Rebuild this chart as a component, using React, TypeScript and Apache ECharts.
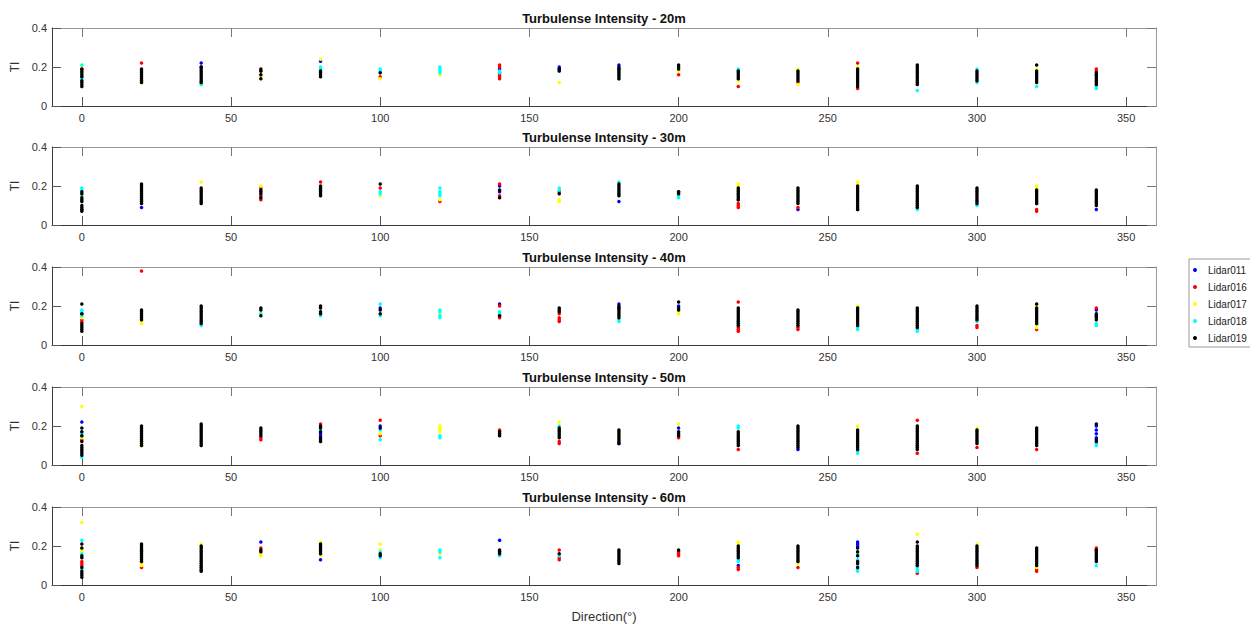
import React, { useEffect, useRef } from "react";
import * as echarts from "echarts";

// Wind directions (degrees) at which the lidars report
const DIRECTIONS = [0, 20, 40, 60, 80, 100, 120, 140, 160, 180, 200, 220, 240, 260, 280, 300, 320, 340];
const X_TICKS = [0, 50, 100, 150, 200, 250, 300, 350];
const LIDARS = ["Lidar011", "Lidar016", "Lidar017", "Lidar018", "Lidar019"];
const HEIGHTS = ["20m", "30m", "40m", "50m", "60m"];

// TI values in hundredths, one list per direction (same order as DIRECTIONS)
// ---- 20 m ----
const TI20_L011 = [[], [], [22, 20], [], [23], [], [], [19, 17], [20, 19], [21, 19], [], [], [], [], [], [], [], [16]];
const TI20_L016 = [[19], [22], [], [18], [], [15], [], [21, 20, 16, 15, 14], [], [], [16], [10], [12], [22, 9], [], [], [], [19, 18]];
const TI20_L017 = [[20, 18], [13, 12], [11], [16, 15], [24], [14], [16], [], [12], [], [18], [13], [19, 11], [20], [], [], [19], []];
const TI20_L018 = [[21, 15, 14], [], [12, 11], [], [20, 19], [19, 18], [20, 19, 18, 17], [18, 17], [18], [17, 16, 14], [], [19, 18], [], [], [8], [19, 12], [10], [9, 10]];
const TI20_L019 = [
  [19, 18, 17, 16, 15, 13, 12, 11, 10], [19, 18, 17, 16, 15, 14, 13, 12], [20, 19, 18, 17, 16, 15, 14, 13, 12], [19, 18, 16, 14],
  [18, 17, 16, 15], [17], [], [], [19, 18], [20, 19, 18, 17, 16, 15, 14], [21, 20, 19], [18, 17, 16, 15, 14],
  [18, 17, 16, 15, 14, 13], [19, 18, 17, 16, 15, 14, 13, 12, 11, 10], [21, 20, 19, 18, 17, 16, 15, 14, 13, 12, 11],
  [18, 17, 16, 15, 14, 13], [21, 18, 17, 16, 15, 14, 13, 12], [17, 16, 15, 14, 13, 12, 11],
];
// ---- 30 m ----
const TI30_L011 = [[8], [9], [], [], [], [], [], [20, 17], [], [12], [], [], [8], [8], [], [], [], [8]];
const TI30_L016 = [[], [], [], [19, 15, 13], [22], [19], [12], [21, 15], [17], [], [17], [13, 11, 10, 9], [9], [], [], [], [8, 7], []];
const TI30_L017 = [[13], [13, 12], [22], [20], [], [15], [13], [], [13, 12], [], [], [21, 20], [], [22, 21], [], [], [20, 19], []];
const TI30_L018 = [[19, 18, 15], [15], [12], [17], [19, 18], [17, 16], [19, 17, 16, 15], [], [19, 18], [22, 16], [15, 14], [16], [15], [], [9, 8], [10], [12, 11], [12]];
const TI30_L019 = [
  [17, 16, 14, 13, 12, 10, 9, 8, 7], [21, 20, 19, 18, 17, 16, 15, 14, 13, 12, 11], [19, 18, 17, 16, 15, 14, 13, 12, 11], [18, 17, 16, 14],
  [20, 19, 18, 17, 16, 15], [21], [], [18, 14], [16], [21, 20, 19, 18, 17, 16, 15], [17, 16], [19, 18, 17, 16, 15, 14, 13],
  [19, 18, 17, 16, 15, 14, 13, 12, 11], [20, 19, 18, 17, 16, 15, 14, 13, 12, 11, 10, 9, 8], [20, 19, 18, 17, 16, 15, 14, 13, 12, 11, 10, 9],
  [19, 18, 17, 16, 15, 14, 13, 12, 11], [18, 17, 16, 15, 14, 13, 12, 11], [18, 17, 16, 15, 14, 13, 12, 11, 10],
];
// ---- 40 m ----
const TI40_L011 = [[16], [], [], [], [], [19], [], [21], [], [21, 19], [20], [], [], [], [], [], [], [18, 15]];
const TI40_L016 = [[13, 12], [38], [], [], [], [], [], [20, 15, 14], [16, 14, 13, 12], [], [], [22, 9, 8, 7], [9, 8], [], [], [10, 9], [8], [19]];
const TI40_L017 = [[14], [12, 11], [], [17], [], [], [16], [], [], [], [17, 16], [], [15], [20], [], [], [20, 10, 9], []];
const TI40_L018 = [[18, 17, 15], [], [11, 10], [16], [16, 15], [21, 15], [18, 17, 15, 14], [17, 16], [], [13, 12], [], [12, 11], [], [19, 9, 8], [8, 7], [13, 12], [11], [11, 10]];
const TI40_L019 = [
  [21, 16, 11, 10, 9, 8, 7], [18, 17, 16, 15, 14, 13], [20, 19, 18, 17, 16, 15, 14, 13, 12, 11], [19, 18, 15],
  [20, 19, 17, 16], [18, 16], [], [15], [19, 18, 17], [20, 19, 18, 17, 16, 15, 14], [22, 19, 18],
  [19, 18, 17, 16, 15, 14, 13, 12, 11, 10], [18, 17, 16, 15, 14, 13, 12, 11, 10], [19, 18, 17, 16, 15, 14, 13, 12, 11, 10],
  [19, 18, 17, 16, 15, 14, 13, 12, 11, 10, 9], [20, 19, 18, 17, 16, 15, 14, 13], [21, 19, 18, 17, 16, 15, 14, 13, 12, 11], [16, 15, 14, 13],
];
// ---- 50 m ----
const TI50_L011 = [[22], [], [], [], [16, 15], [20], [], [], [], [11], [19], [], [8], [], [], [], [], [20, 18, 16, 14]];
const TI50_L016 = [[13], [], [], [14, 13], [21], [23, 15], [], [18], [12, 11], [], [14], [8], [], [], [23, 6], [9], [8], []];
const TI50_L017 = [[30, 14], [12, 10], [], [18], [], [16], [20, 19, 18, 17], [], [22], [15], [21], [14], [12], [20], [], [19], [], []];
const TI50_L018 = [[17, 16, 15, 4], [], [], [], [18], [18, 13], [15, 14], [16], [20], [], [], [20, 19], [], [10, 8, 7, 6], [10, 9], [], [12], [11, 10]];
const TI50_L019 = [
  [19, 17, 15, 12, 10, 9, 8, 7, 6, 5], [20, 19, 18, 17, 16, 15, 14, 13, 12, 11, 10], [21, 20, 19, 18, 17, 16, 15, 14, 13, 12, 11, 10],
  [19, 18, 17, 16, 15], [20, 19, 17, 14, 13, 12], [19], [], [17, 16, 15], [19, 18, 17, 16, 15, 14],
  [18, 17, 16, 15, 14, 13, 12, 11], [17, 16, 15], [17, 16, 15, 14, 13, 12, 11, 10],
  [20, 19, 18, 17, 16, 15, 14, 13, 12, 11, 10, 9], [18, 17, 16, 15, 14, 13, 12, 11, 10, 9, 8],
  [20, 19, 18, 17, 16, 15, 14, 13, 12, 11, 10, 9, 8], [18, 17, 16, 15, 14, 13, 12, 11],
  [19, 18, 17, 16, 15, 14, 13, 12, 11, 10], [21, 13, 12],
];
// ---- 60 m ----
const TI60_L011 = [[], [], [], [22], [13], [], [], [23], [], [], [], [10], [], [22, 21, 20], [], [], [], []];
const TI60_L016 = [[12, 11, 10], [9], [], [19], [], [], [], [17], [18, 14, 13], [], [17, 16, 15], [9, 8], [9], [], [6], [9], [7, 8], [19, 18]];
const TI60_L017 = [[32, 19, 18, 17], [11, 10], [21, 20], [16, 15], [22, 15], [21, 18], [16], [], [], [], [], [22, 21], [11], [], [26], [21], [9], []];
const TI60_L018 = [[23, 16, 8], [18, 17, 16], [9, 8], [], [], [17, 14], [18, 17, 14], [15], [15], [], [], [13, 12], [], [16, 13, 10, 8, 7], [10, 9, 8, 7], [11], [], [14, 10]];
const TI60_L019 = [
  [21, 19, 15, 14, 9, 7, 6, 5, 4], [21, 20, 19, 18, 17, 16, 15, 14, 13, 12], [20, 19, 18, 17, 16, 15, 14, 13, 12, 11, 10, 9, 8, 7],
  [18, 17], [21, 20, 19, 18, 17, 16], [16, 15], [], [18, 17, 16], [16], [18, 17, 16, 15, 14, 13, 12, 11], [18],
  [20, 19, 18, 17, 16, 15, 14], [20, 19, 18, 17, 16, 15, 14, 13, 12], [19, 17, 15, 12, 11, 9],
  [22, 20, 19, 18, 17, 16, 15, 14, 13, 12, 11, 10], [20, 19, 18, 17, 16, 15, 14, 13, 12, 11, 10],
  [19, 18, 17, 16, 15, 14, 13, 12, 11, 10], [18, 17, 16, 15, 14, 13, 12],
];

const PANELS = [
  [TI20_L011, TI20_L016, TI20_L017, TI20_L018, TI20_L019],
  [TI30_L011, TI30_L016, TI30_L017, TI30_L018, TI30_L019],
  [TI40_L011, TI40_L016, TI40_L017, TI40_L018, TI40_L019],
  [TI50_L011, TI50_L016, TI50_L017, TI50_L018, TI50_L019],
  [TI60_L011, TI60_L016, TI60_L017, TI60_L018, TI60_L019],
];

const COLORS = ["#0000ff", "#ff0000", "#ffff00", "#00ffff", "#000000"];
const FONT = "'Liberation Sans', Arial, Helvetica, sans-serif";
const GRID_TOPS = [28, 147, 267, 387, 507];
const GRID_LEFT = 52;
const GRID_WIDTH = 1104;
const GRID_HEIGHT = 78;

function toPoints(lists: number[][]) {
  const pts: number[][] = [];
  lists.forEach((vals, i) => vals.forEach((v) => pts.push([DIRECTIONS[i], v / 100])));
  return pts;
}

export default function App() {
  const ref = useRef<HTMLDivElement>(null);
  useEffect(() => {
    if (!ref.current) return;
    const chart = echarts.init(ref.current, null, { renderer: "svg" });
    const grid = GRID_TOPS.map((top) => ({ left: GRID_LEFT, top, width: GRID_WIDTH, height: GRID_HEIGHT }));
    const xAxis: any[] = [];
    const yAxis: any[] = [];
    GRID_TOPS.forEach((_, i) => {
      xAxis.push({
        gridIndex: i, type: "value", min: -10, max: 360, position: "bottom",
        axisLine: { show: true, onZero: false, lineStyle: { color: "#3a3a3a", width: 1 } },
        axisTick: { show: true, inside: true, length: 9, customValues: X_TICKS, lineStyle: { color: "#555" } },
        axisLabel: { customValues: X_TICKS, fontSize: 11, color: "#333", margin: 6, fontFamily: FONT },
        splitLine: { show: false },
      });
      xAxis.push({
        gridIndex: i, type: "value", min: -10, max: 360, position: "top",
        axisLine: { show: true, onZero: false, lineStyle: { color: "#999", width: 1 } },
        axisTick: { show: true, inside: true, length: 9, customValues: X_TICKS, lineStyle: { color: "#777" } },
        axisLabel: { show: false },
        splitLine: { show: false },
      });
      yAxis.push({
        gridIndex: i, type: "value", min: 0, max: 0.4, interval: 0.2, position: "left",
        name: "TI", nameLocation: "middle", nameGap: 29, nameRotate: 90,
        nameTextStyle: { fontSize: 12, color: "#333", fontFamily: FONT },
        axisLine: { show: true, onZero: false, lineStyle: { color: "#3a3a3a", width: 1 } },
        axisTick: { show: true, inside: true, length: 9, lineStyle: { color: "#555" } },
        axisLabel: { fontSize: 11, color: "#333", margin: 5, fontFamily: FONT },
        splitLine: { show: false },
      });
      yAxis.push({
        gridIndex: i, type: "value", min: 0, max: 0.4, interval: 0.2, position: "right",
        axisLine: { show: true, onZero: false, lineStyle: { color: "#999", width: 1 } },
        axisTick: { show: true, inside: true, length: 9, lineStyle: { color: "#777" } },
        axisLabel: { show: false },
        splitLine: { show: false },
      });
    });
    const series: any[] = [];
    PANELS.forEach((panel, p) => {
      panel.forEach((lists, l) => {
        series.push({
          type: "scatter", name: LIDARS[l], xAxisIndex: p * 2, yAxisIndex: p * 2,
          data: toPoints(lists), symbol: "circle", symbolSize: 3.5,
          itemStyle: { color: COLORS[l], opacity: 1 }, z: 2 + l,
        });
      });
    });
    const graphic: any[] = HEIGHTS.map((h, i) => ({
      type: "text", x: GRID_LEFT + GRID_WIDTH / 2, y: GRID_TOPS[i] - 10,
      style: { text: "Turbulense Intensity - " + h, align: "center", verticalAlign: "middle", font: `bold 13px ${FONT}`, fill: "#111" },
    }));
    graphic.push({
      type: "text", x: GRID_LEFT + GRID_WIDTH / 2, y: 616,
      style: { text: "Direction(°)", align: "center", verticalAlign: "middle", font: `13px ${FONT}`, fill: "#333" },
    });
    chart.setOption({
      animation: false,
      backgroundColor: "#fff",
      grid, xAxis, yAxis, series, graphic,
      legend: {
        data: LIDARS, orient: "vertical", left: 1189, top: 259,
        icon: "circle", itemWidth: 12, itemHeight: 4, itemGap: 7,
        textStyle: { fontSize: 10, color: "#222", fontFamily: FONT, padding: [0, 0, 0, 2] },
        borderColor: "#999", borderWidth: 1, padding: [6, 4, 4, 4],
        backgroundColor: "#fff",
      },
    });
    return () => chart.dispose();
  }, []);
  return <div ref={ref} style={{ position: "absolute", left: 0, top: 0, width: 1250, height: 626 }} />;
}
